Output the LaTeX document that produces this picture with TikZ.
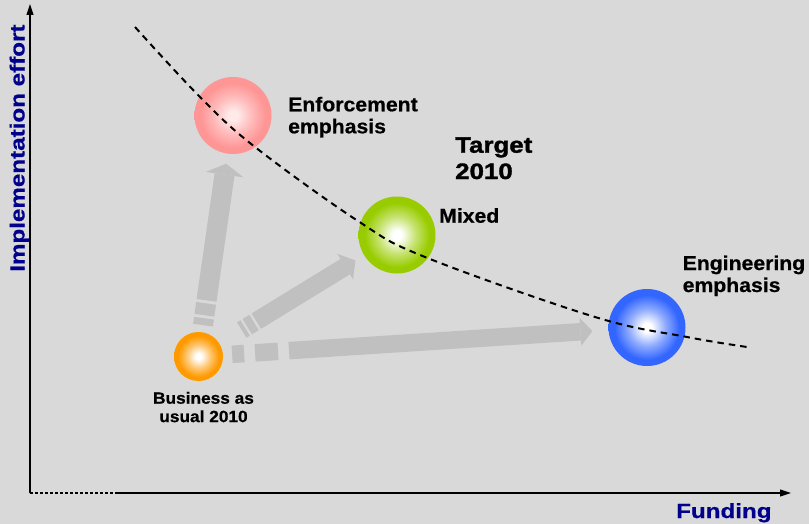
\documentclass[tikz,border=0pt]{standalone}
\usepackage{fontspec}
\setmainfont{Liberation Sans}[FakeStretch=1.06,BoldFeatures={FakeBold=0.6}]
\newfontfamily\axisfont{Liberation Sans}[FakeStretch=1.18,BoldFeatures={FakeBold=0.6}]
\newfontfamily\targetfont{Liberation Sans}[FakeStretch=1.16,BoldFeatures={FakeBold=1.5}]
\usetikzlibrary{arrows.meta,positioning}
\definecolor{bggray}{RGB}{217,217,217}
\definecolor{arrowgray}{RGB}{192,192,192}
\definecolor{axisblue}{RGB}{0,0,140}
\definecolor{enfred}{RGB}{255,150,150}
\definecolor{mixgreen}{RGB}{153,204,0}
\definecolor{engblue}{RGB}{51,102,255}
\definecolor{bizorange}{RGB}{255,153,0}
\colorlet{ballcol}{enfred}
\colorlet{ballmid}{white}
\pgfdeclareradialshading[ballcol,ballmid]{ballshade}{\pgfpoint{0bp}{0bp}}{%
  color(0bp)=(ballmid); color(3bp)=(ballmid); color(12bp)=(ballcol!55!ballmid);
  color(21bp)=(ballcol); color(25bp)=(ballcol); color(50bp)=(ballcol)}
\tikzset{ball/.style={circle,inner sep=0pt,minimum size=#1,shading=ballshade},
  ballcolor/.code={\colorlet{ballcol}{#1}},
  ballcenter/.code={\colorlet{ballmid}{#1}},
  fat/.style={draw=arrowgray,line width=#1},
  lbl/.style={font=\bfseries\fontsize{20}{22}\selectfont,align=left,inner sep=0pt},
  axislbl/.style={font=\axisfont\bfseries\fontsize{20.5}{22}\selectfont,text=axisblue,inner sep=0pt},
  axisline/.style={line width=1.1pt}}

\begin{document}
\begin{tikzpicture}[x=1pt,y=-1pt]
\useasboundingbox (0,0) rectangle (809,524);
\fill[bggray] (0,0) rectangle (809,524);

% axes
\coordinate (O) at (30,493);
\coordinate (ytop) at (30,4);
\coordinate (xbrk) at (118,493);
\coordinate (xend) at (791,493);
\draw[axisline,dash pattern=on 3pt off 2pt] (O) -- (xbrk);
\draw[axisline,-{Triangle[length=11pt,width=7pt]}] (xbrk) -- (xend);
\draw[axisline,-{Triangle[length=11pt,width=7pt]}] (O) -- (ytop);
\node[axislbl,rotate=90,anchor=base west] (ylbl) at (24.5,272) {Implementation effort};
\node[axislbl,anchor=base west] (xlbl) at (676,518) {Funding};

% options
\node[ball=49pt,ballcenter=white,ballcolor=bizorange] (biz) at (198.5,356.5) {};
\node[ball=77pt,ballcenter={enfred!20!white},ballcolor=enfred] (enf) at (233,115.5) {};
\node[ball=77pt,ballcenter=white,ballcolor=mixgreen] (mix) at (397,235) {};
\node[ball=77pt,ballcenter=white,ballcolor=engblue] (eng) at (647,327.5) {};

\draw[fat=20pt,dash pattern=on 7pt off 3pt on 12pt off 3pt on 400pt,shorten <=7pt,shorten >=10pt,
  -{Triangle[length=11pt,width=38pt,line width=0pt]}] (biz) -- (enf);
\draw[fat=18pt,dash pattern=on 4pt off 2.5pt on 8pt off 2.5pt on 400pt,shorten <=26pt,shorten >=10pt,
  -{Triangle[length=12pt,width=30pt,line width=0pt]}] (biz) -- (mix);
\draw[fat=17.5pt,dash pattern=on 12pt off 11pt on 23pt off 11pt on 600pt,shorten <=9pt,shorten >=16pt,
  -{Triangle[length=12pt,width=28pt,line width=0pt]}] (biz) -- (eng);

% target curve
\draw[line width=2pt,dash pattern=on 6.5pt off 5pt] plot[smooth,tension=0.6] coordinates
  {(135,27) (200,97) (255,147) (358,221) (425,257) (595,317) (687,337) (747,347)};

\node[lbl,anchor=base west] (enflbl) at (288,133.3) {Enforcement\\emphasis};
\node[lbl,anchor=base west] (mixlbl) at (439,222.7) {Mixed};
\node[lbl,anchor=base west] (englbl) at (682.5,292) {Engineering\\emphasis};
\node[font=\targetfont\bfseries\fontsize{22.3}{26.3}\selectfont,align=left,inner sep=0pt,anchor=base west] (tgt) at (455,179) {Target\\2010};
\node[font=\bfseries\fontsize{16.3}{18.4}\selectfont,align=center,inner sep=0pt,below=10.5pt of biz,xshift=5pt] (bizlbl) {Business as\\usual 2010};

\end{tikzpicture}
\end{document}
